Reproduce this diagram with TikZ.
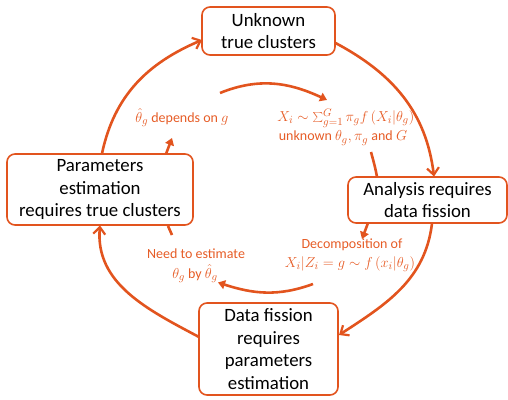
\documentclass[tikz,border=0pt]{standalone}
\usepackage{fontspec}
\setmainfont{Carlito}
\usetikzlibrary{arrows.meta}
\definecolor{cyc}{RGB}{226,84,30}
\definecolor{note}{RGB}{230,92,38}
% formulas inside the notes are set a little larger than the words
\newcommand\mth[1]{{\fontsize{15}{21}\selectfont$#1$}}
\tikzset{
  x=1pt, y=1pt,
  stage/.style={draw=cyc, line width=1.6pt, rounded corners=8pt, fill=white,
    align=center, inner sep=0pt, font=\fontsize{18.8}{22.5}\selectfont, text=black},
  cycle/.style={draw=cyc, line width=2.6pt, -{Straight Barb[length=7pt,width=12pt,line width=2.2pt]}},
  inner/.style={draw=cyc, line width=2.6pt, -{Triangle[length=7pt,width=9pt]}},
  plainline/.style={draw=cyc, line width=2.6pt},
  lbl/.style={text=note, align=center, font=\fontsize{14}{21}\selectfont, inner sep=0pt}
}
\begin{document}
\begin{tikzpicture}
\useasboundingbox (0,0) rectangle (508,399);

% the four stages of the cycle
\node[stage, minimum width=133, minimum height=48] (top) at (268.5,368) {Unknown\\true clusters};
\node[stage, minimum width=186, minimum height=71] (left) at (100,209.5) {Parameters\\estimation\\requires true clusters};
\node[stage, minimum width=159, minimum height=46] (right) at (427.5,199) {Analysis requires\\data fission};
\node[stage, minimum width=139, minimum height=92] (bottom) at (268.5,50) {Data fission\\requires\\parameters\\estimation};

% outer cycle
\coordinate (a1s) at (102,245.5);
\coordinate (a1e) at (202,359);
\coordinate (a2s) at (335.5,356);
\coordinate (a2e) at (434,222.5);
\coordinate (a3s) at (432,175.5);
\coordinate (a3e) at (339,64);
\coordinate (a4s) at (199,62);
\coordinate (a4e) at (100,173.5);
\draw[cycle] (a1s) to[out=78, in=203] (a1e);
\draw[cycle] (a2s) to[out=-28, in=97] (a2e);
\draw[cycle] (a3s) to[out=-97, in=33] (a3e);
\draw[cycle] (a4s) to[out=152, in=-95] (a4e);

% annotations
\node[lbl] (t1) at (182,281) {\mth{\hat{\theta}_g} depends on \mth{g}};
\node[lbl] (t2) at (349,281) {\mth{X_i \sim \textstyle\sum_{g=1}^{G} \pi_g f\left(X_i\middle|\theta_g\right),}};
\node[lbl] (t3) at (343,261) {unknown \mth{\theta_g,\pi_g} and \mth{G}};
\node[lbl] (t4) at (352,154) {Decomposition of};
\node[lbl] (t5) at (350,135) {\mth{X_i|Z_i = g \sim f\left(x_i\middle|\theta_g\right)}};
\node[lbl] (t6) at (196,145) {Need to estimate};
\node[lbl] (t7) at (195,125) {\mth{\theta_g} by \mth{\hat{\theta}_g}};

% inner links
\coordinate (i1s) at (220,306);
\coordinate (i1e) at (327,299);
\draw[inner] (i1s) to[out=22, in=155] (i1e);
\coordinate (i2s) at (166,245);
\coordinate (i2e) at (172,261);
\draw[inner] (i2s) -- (i2e);
\coordinate (i3s) at (377,222);
\coordinate (i3e) at (371,247);
\draw[plainline] (i3s) to[out=100, in=-75] (i3e);
\coordinate (i4s) at (368,176);
\coordinate (i4e) at (362,160);
\draw[inner] (i4s) -- (i4e);
\coordinate (i5s) at (168,173);
\coordinate (i5e) at (172,164);
\draw[plainline] (i5s) -- (i5e);
\coordinate (i6s) at (313,115);
\coordinate (i6e) at (218,116.5);
\draw[inner] (i6s) to[out=200, in=-18] (i6e);
\end{tikzpicture}
\end{document}
